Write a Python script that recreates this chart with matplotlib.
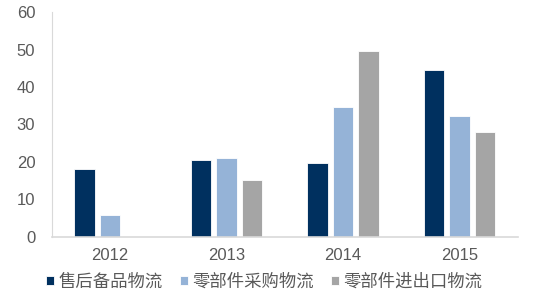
import numpy as np
import matplotlib.pyplot as plt

plt.rcParams["font.family"] = ["Liberation Sans", "Noto Sans CJK SC", "DejaVu Sans"]

years = ["2012", "2013", "2014", "2015"]
series_names = ["售后备品物流", "零部件采购物流", "零部件进出口物流"]
after_sales = [18.0, 20.6, 19.8, 44.5]
parts_purchase = [5.7, 21.1, 34.7, 32.2]
parts_import_export = [0.0, 15.2, 49.7, 27.9]
colors = ["#00305F", "#95B3D7", "#A5A5A5"]

fig = plt.figure(figsize=(5.41, 3.08), dpi=100)
ax = fig.add_axes([0.096, 0.232, 0.861, 0.728])

x = np.arange(len(years))
width = 0.175
step = 0.22
for i, (vals, name, c) in enumerate(zip([after_sales, parts_purchase, parts_import_export], series_names, colors)):
    ax.bar(x + (i - 1) * step, vals, width, color=c, label=name,
           edgecolor="white", linewidth=0.6)

ax.set_xlim(-0.5, len(years) - 0.5)
ax.set_ylim(0, 60)
ax.set_yticks(range(0, 61, 10))
ax.set_xticks(x)
ax.set_xticklabels(years)
ax.tick_params(axis="both", length=0, labelsize=12, colors="#595959")
ax.tick_params(axis="y", pad=12)
ax.tick_params(axis="x", pad=8)
for s in ["top", "right"]:
    ax.spines[s].set_visible(False)
ax.spines["left"].set_color("#D9D9D9")
ax.spines["bottom"].set_color("#D9D9D9")
ax.spines["bottom"].set_linewidth(1.2)

leg = fig.legend(loc="center", bbox_to_anchor=(0.488, 0.085), ncol=3, frameon=False,
                 prop={"family": ["Noto Sans CJK SC", "DejaVu Sans"], "size": 12.5},
                 handlelength=0.45, handleheight=0.45, handletextpad=0.25,
                 columnspacing=1.0, labelcolor="#595959")

fig.savefig("out.png", dpi=100)
